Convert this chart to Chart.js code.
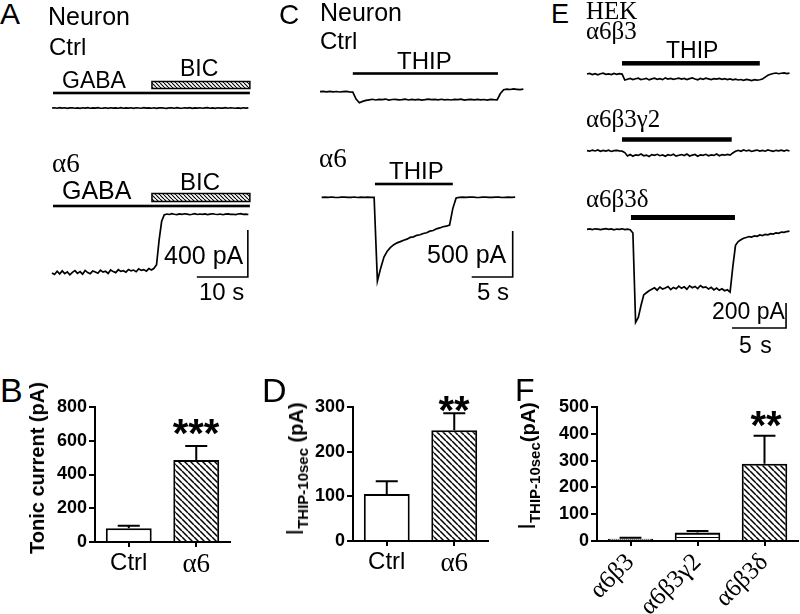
<!DOCTYPE html>
<html>
<head>
<meta charset="utf-8">
<script src="https://cdn.jsdelivr.net/npm/chart.js@4.4.1/dist/chart.umd.min.js"></script>
<style>
  body { margin: 0; background: #fff; }
  #fig { position: relative; width: 800px; height: 614px; overflow: hidden; background: #fff; }
  #fig canvas { position: absolute; }
  .lbl { position: absolute; line-height: 1; white-space: nowrap; color: #000; }
  .sans { font-family: Arial, "Liberation Sans", Helvetica, sans-serif; }
  .serif { font-family: "Times New Roman", "Liberation Serif", Times, serif; }
  .b { font-weight: bold; }
  .rot { transform: translate(-50%, -50%) rotate(-90deg); }
  .mid { transform: translateX(-50%); }
</style>
</head>
<body>
<div id="fig">
  <canvas id="cA" width="206" height="262" style="left:48px;top:55px"></canvas>
  <canvas id="cC" width="216" height="250" style="left:310px;top:60px"></canvas>
  <canvas id="cE" width="216" height="290" style="left:580px;top:50px"></canvas>
  <canvas id="cB" width="194" height="190" style="left:38px;top:393px"></canvas>
  <canvas id="cD" width="194" height="190" style="left:296px;top:393px"></canvas>
  <canvas id="cF" width="260" height="221" style="left:540px;top:393px"></canvas>

  <!-- A -->
  <div class="lbl sans" style="left:0;top:-1px;font-size:30px">A</div>
  <div class="lbl sans" style="left:48px;top:4px;font-size:25px">Neuron</div>
  <div class="lbl sans" style="left:49px;top:35px;font-size:24px">Ctrl</div>
  <div class="lbl sans" style="left:62px;top:69px;font-size:23px">GABA</div>
  <div class="lbl sans" style="left:180px;top:57px;font-size:23px">BIC</div>
  <div class="lbl serif" style="left:52px;top:150px;font-size:27px">α6</div>
  <div class="lbl sans" style="left:62px;top:178px;font-size:25px">GABA</div>
  <div class="lbl sans" style="left:180px;top:170px;font-size:24px">BIC</div>
  <div class="lbl sans" style="left:164px;top:243px;font-size:25px">400 pA</div>
  <div class="lbl sans" style="left:199px;top:280px;font-size:24px">10 s</div>

  <!-- C -->
  <div class="lbl sans" style="left:279px;top:1px;font-size:28px">C</div>
  <div class="lbl sans" style="left:320px;top:0;font-size:25px">Neuron</div>
  <div class="lbl sans" style="left:320px;top:29px;font-size:24px">Ctrl</div>
  <div class="lbl sans" style="left:397px;top:49px;font-size:24px">THIP</div>
  <div class="lbl serif" style="left:319px;top:145px;font-size:27px">α6</div>
  <div class="lbl sans" style="left:389px;top:159px;font-size:24px">THIP</div>
  <div class="lbl sans" style="left:427px;top:242px;font-size:25px">500 pA</div>
  <div class="lbl sans" style="left:477px;top:280px;font-size:24px">5 s</div>

  <!-- E -->
  <div class="lbl sans" style="left:551px;top:1px;font-size:27px">E</div>
  <div class="lbl serif" style="left:586px;top:-2px;font-size:25px">HEK</div>
  <div class="lbl serif" style="left:586px;top:18px;font-size:25px">α6β3</div>
  <div class="lbl sans" style="left:666px;top:39px;font-size:23px">THIP</div>
  <div class="lbl serif" style="left:586px;top:106px;font-size:25px">α6β3γ2</div>
  <div class="lbl serif" style="left:586px;top:186px;font-size:25px">α6β3δ</div>
  <div class="lbl sans" style="left:712px;top:300px;font-size:23px">200 pA</div>
  <div class="lbl sans" style="left:739px;top:334px;font-size:23px;word-spacing:2px">5 s</div>

  <!-- B, D, F -->
  <div class="lbl sans" style="left:0;top:373px;font-size:34px">B</div>
  <div class="lbl sans" style="left:262px;top:373px;font-size:34px">D</div>
  <div class="lbl sans" style="left:515px;top:374px;font-size:32px">F</div>
  <div class="lbl sans b rot" style="left:37px;top:468px;font-size:20px">Tonic current (pA)</div>
  <div class="lbl sans b rot" style="left:295px;top:469px;font-size:20px"><span style="font-size:24px;font-weight:normal">I</span><span style="font-size:15px;position:relative;top:5px">THIP-10sec</span> (pA)</div>
  <div class="lbl sans b rot" style="left:527px;top:466px;font-size:20px"><span style="font-size:24px;font-weight:normal">I</span><span style="font-size:15px;position:relative;top:5px">THIP-10sec</span>(pA)</div>
  <div class="lbl sans b mid" style="left:196px;top:413px;font-size:40px">***</div>
  <div class="lbl sans b mid" style="left:454px;top:390px;font-size:40px">**</div>
  <div class="lbl sans b mid" style="left:766px;top:405px;font-size:40px">**</div>
</div>

<script>
// ---------- データ ----------
// A: GABA / BIC（トニック電流） 0.5 s 間隔, pA
const aTimeStep = 0.5;
const aCtrlTrace = [0,2,-2,3,-1,2,-3,1,2,-2,1,-3,2,-1,3,-2,1,-1,3,-2,
  -1,2,-3,2,-1,1,-2,3,-2,1,-1,2,-3,2,0,-2,3,-1,1,-2,
  2,-3,1,2,-1,-3,2,1,-2,3,-1,-2,2,-1,3,-3,1,-1,2,-2,
  1,3,-2,1,-3,2,-1,-1,3,-2,2,0,-2,1,-3,2,-1,1];
const aA6Trace = [0,-12,15,-8,18,-5,10,-15,6,20,-3,12,-10,22,4,-6,17,9,-2,24,
  8,15,-4,26,12,3,28,14,20,7,30,18,25,11,35,22,29,16,38,26,40,
  70,280,440,495,
  502,498,505,500,497,503,499,504,501,496,500,505,498,502,499,503,497,501,504,500,
  498,502,496,501,503,499,500,497,502,505,499,501,498];
const aGaba = [0.2, 38.8];      // s
const aBic = [19.6, 38.8];      // s
const aScaleBar = [10, 400];    // s, pA

// C: THIP（ニューロン） 0.4 s 間隔
const cTimeStep = 0.4;
const cCtrlTrace = [0,3,-2,4,-1,2,-3,1,3,-2,
  -5,-80,-120,-105,-95,
  -88,-82,-90,-84,-87,-80,-92,-85,-83,-89,
  -86,-81,-90,-84,-88,-83,-91,-86,-80,-87,
  -84,-89,-82,-88,-85,-90,-83,-87,-81,-92,
  -86,-84,-89,-83,-88,-85,-91,-84,-87,-89,
  -20,22,28,24,30,26,22,27];
const cA6Start = 0.2;
const cA6Trace = [0,2,-1,3,0,-2,1,2,-1,0,3,-2,1,0,2,-1,0,
  -910,-770,-650,-585,-545,-515,-495,-482,-466,-455,-436,-430,-413,-407,-393,-385,
  -368,-361,-343,-333,-320,-314,-302,-120,-8,
  0,2,-1,1,3,0,-2,1,2,0,-1,2,1,-2,0,1,-1,2];
const cCtrlThip = [4.0, 21.7];
const cA6Thip = [6.7, 16.2];
const cScaleBar = [5, 500];

// E: THIP（HEK） 0.25 s 間隔
const eTimeStep = 0.25;
const eB3Trace = [0,5,-4,3,-6,2,6,-3,1,-5,4,-2,3,-1,
  -48,
  -42,-36,-45,-38,-33,-44,-40,-35,-47,-39,
  -34,-42,-37,-45,-31,-40,-36,-43,-38,-33,
  -41,-35,-44,-37,-32,-40,-46,-36,-42,-34,
  -39,-44,-37,-41,-35,-43,-38,-45,-40,-47,
  -42,-48,-44,-50,-43,-47,-52,-45,-49,
  -46,-40,-25,-10,-2,
  4,8,2,6,9,3,7];
const eG2Trace = [0,-4,5,-2,6,-5,2,-3,4,-6,1,3,-2,-4,
  -15,-42,
  -30,-44,-33,-38,-27,-41,-35,-46,-31,-37,
  -29,-40,-34,-45,-32,-38,-28,-43,-36,-31,
  -39,-26,-42,-35,-30,-44,-33,-37,-29,-41,
  -34,-38,-27,-40,-32,-36,-30,-35,
  -18,-4,
  3,-5,6,-2,4,-6,1,5,-3,2,-4,6,0,-5,3,-1,4,-3,5,-2];
const eDTrace = [0,3,-2,4,1,-3,2,5,-1,3,-4,2,0,4,-2,1,-3,
  -30,-745,-705,-610,-525,-508,-492,
  -480,-468,-487,-462,-478,-470,-458,-483,-465,-476,
  -455,-472,-460,-479,-452,-468,-457,-474,-450,-466,
  -461,-478,-464,-485,-470,-488,-476,-492,-484,
  -502,-300,-128,-98,-84,-72,-66,-58,
  -62,-52,-56,-45,-50,-40,-44,-35,-38,-28,-32,-22,-25,-18,-14];
const eB3Thip = [3.24, 16.0];
const eG2Thip = [3.24, 13.4];
const eDThip = [4.07, 13.7];
const eScaleBar = [5, 200];

// B: トニック電流
const bLabels = ['Ctrl', 'α6'];
const bMeans = [82, 486];
const bSem = [15, 83];
const bTicks = [0, 200, 400, 600, 800];

// D: I THIP-10sec（ニューロン）
const dLabels = ['Ctrl', 'α6'];
const dMeans = [105, 248];
const dSem = [29, 38];
const dTicks = [0, 100, 200, 300];

// F: I THIP-10sec（HEK）
const fLabels = ['α6β3', 'α6β3γ2', 'α6β3δ'];
const fMeans = [8, 32, 288];
const fSem = [4, 5, 105];
const fTicks = [0, 100, 200, 300, 400, 500];

// ---------- 描画 ----------
const SANS = 'Arial, "Liberation Sans", Helvetica, sans-serif';
const SERIF = '"Times New Roman", "Liberation Serif", Times, serif';
Chart.defaults.font.family = SANS;

// ハッチング用パターン
function makePattern(ctx, kind, size) {
  const s = size;
  const tile = document.createElement('canvas');
  tile.width = s; tile.height = s;
  const g = tile.getContext('2d');
  g.fillStyle = '#fff';
  g.fillRect(0, 0, s, s);
  g.fillStyle = '#000';
  g.strokeStyle = '#000';
  if (kind === 'diag') {
    g.lineWidth = s > 4 ? 1.5 : 1.1;
    g.beginPath();
    for (let k = -1; k <= 1; k++) {
      g.moveTo(k * s, 0);
      g.lineTo(k * s + s, s);
    }
    g.stroke();
  } else if (kind === 'horiz') {
    g.fillRect(0, 0, s, 1);
  } else {
    g.fillStyle = '#666';
    g.fillRect(0, 0, 1, 1);
    g.fillRect(1, 1, 1, 1);
  }
  return ctx.createPattern(tile, 'repeat');
}

// 薬物投与バーとスケールバー
const traceMarks = {
  id: 'traceMarks',
  afterDatasetsDraw(chart, args, opts) {
    const c = chart.ctx;
    const xs = chart.scales.x;
    c.save();
    opts.marks.forEach(m => {
      const x0 = xs.getPixelForValue(m.t[0]);
      const x1 = xs.getPixelForValue(m.t[1]);
      const y = m.y - opts.top;
      if (m.hatch) {
        c.fillStyle = makePattern(c, 'diag', 4);
        c.fillRect(x0, y - m.h / 2, x1 - x0, m.h);
        c.strokeStyle = '#000';
        c.lineWidth = 1.5;
        c.strokeRect(x0, y - m.h / 2, x1 - x0, m.h);
      } else {
        c.fillStyle = '#000';
        c.fillRect(x0, y - m.h / 2, x1 - x0, m.h);
      }
    });
    const sb = opts.scaleBar;
    if (sb) {
      const ys = chart.scales[sb.axis];
      const xr = xs.getPixelForValue(sb.t);
      const xl = xs.getPixelForValue(sb.t - sb.size[0]);
      const hh = Math.abs(ys.getPixelForValue(sb.size[1]) - ys.getPixelForValue(0));
      const y = sb.y - opts.top;
      c.strokeStyle = '#000';
      c.lineWidth = 1.6;
      c.beginPath();
      c.moveTo(xl, y);
      c.lineTo(xr, y);
      c.lineTo(xr, y - hh);
      c.stroke();
    }
    c.restore();
  }
};

// 記録波形パネル
function traceChart(id, cfg) {
  const canvas = document.getElementById(id);
  const W = canvas.width, H = canvas.height;
  const scales = {
    x: { type: 'linear', display: false, min: -cfg.zeroX / cfg.pxPerSec, max: (W - cfg.zeroX) / cfg.pxPerSec }
  };
  const datasets = cfg.traces.map((tr, i) => {
    const base = tr.base - cfg.top;
    scales['y' + i] = { type: 'linear', display: false, min: -(H - base) / cfg.pxPerPA, max: base / cfg.pxPerPA };
    return {
      data: tr.values.map((v, j) => ({ x: tr.start + j * tr.step, y: v })),
      yAxisID: 'y' + i,
      borderColor: '#000',
      borderWidth: 1.7,
      pointRadius: 0,
      tension: 0,
      fill: false
    };
  });
  return new Chart(canvas, {
    type: 'line',
    data: { datasets },
    options: {
      responsive: false,
      animation: false,
      events: [],
      layout: { padding: 0 },
      plugins: {
        legend: { display: false },
        tooltip: { enabled: false },
        traceMarks: { top: cfg.top, marks: cfg.marks, scaleBar: cfg.scaleBar }
      },
      scales
    },
    plugins: [traceMarks]
  });
}

traceChart('cA', {
  top: 55, zeroX: 4, pxPerSec: 5.1, pxPerPA: 0.1175,
  traces: [
    { values: aCtrlTrace, start: 0, step: aTimeStep, base: 108 },
    { values: aA6Trace, start: 0, step: aTimeStep, base: 273 }
  ],
  marks: [
    { t: aGaba, y: 93, h: 2.6 },
    { t: aBic, y: 85, h: 7, hatch: true },
    { t: aGaba, y: 206, h: 2.6 },
    { t: aBic, y: 197.5, h: 8, hatch: true }
  ],
  scaleBar: { axis: 'y1', t: 38.4, y: 277, size: aScaleBar }
});

traceChart('cC', {
  top: 60, zeroX: 10, pxPerSec: 8.2, pxPerPA: 0.092,
  traces: [
    { values: cCtrlTrace, start: 0, step: cTimeStep, base: 91.7 },
    { values: cA6Trace, start: cA6Start, step: cTimeStep, base: 197.3 }
  ],
  marks: [
    { t: cCtrlThip, y: 73.5, h: 2.6 },
    { t: cA6Thip, y: 184, h: 2.6 }
  ],
  scaleBar: { axis: 'y1', t: 23.5, y: 277, size: cScaleBar }
});

traceChart('cE', {
  top: 50, zeroX: 7, pxPerSec: 10.8, pxPerPA: 0.125,
  traces: [
    { values: eB3Trace, start: 0, step: eTimeStep, base: 74 },
    { values: eG2Trace, start: 0, step: eTimeStep, base: 150.7 },
    { values: eDTrace, start: 0, step: eTimeStep, base: 229.3 }
  ],
  marks: [
    { t: eB3Thip, y: 63.3, h: 4.5 },
    { t: eG2Thip, y: 139.5, h: 4.5 },
    { t: eDThip, y: 217.5, h: 5 }
  ],
  scaleBar: { axis: 'y2', t: 18.43, y: 328, size: eScaleBar }
});

// エラーバー（上側のみ）
const errorBars = {
  id: 'errorBars',
  afterDatasetsDraw(chart, args, opts) {
    const c = chart.ctx;
    const ys = chart.scales.y;
    const meta = chart.getDatasetMeta(0);
    const means = chart.data.datasets[0].data;
    c.save();
    c.strokeStyle = '#000';
    c.lineWidth = 2;
    meta.data.forEach((bar, i) => {
      const yTop = ys.getPixelForValue(means[i] + opts.sems[i]);
      const half = bar.width * 0.24;
      c.beginPath();
      c.moveTo(bar.x, bar.y);
      c.lineTo(bar.x, yTop);
      c.moveTo(bar.x - half, yTop);
      c.lineTo(bar.x + half, yTop);
      c.stroke();
    });
    c.restore();
  }
};

function barChart(id, labels, means, sems, ticks, fillKinds, xHeight, rot, labelFont) {
  const canvas = document.getElementById(id);
  const ctx = canvas.getContext('2d');
  const fills = fillKinds.map(k => k === 'white' ? '#fff' : makePattern(ctx, k, k === 'diag' ? 6 : (k === 'horiz' ? 3 : 2)));
  return new Chart(canvas, {
    type: 'bar',
    data: {
      labels,
      datasets: [{
        data: means,
        backgroundColor: fills,
        borderColor: '#000',
        borderWidth: 2,
        borderSkipped: 'start',
        categoryPercentage: 1,
        barPercentage: 0.68
      }]
    },
    options: {
      responsive: false,
      animation: false,
      events: [],
      layout: { padding: { top: 14, right: 2, left: 0, bottom: 0 } },
      plugins: {
        legend: { display: false },
        tooltip: { enabled: false },
        errorBars: { sems }
      },
      scales: {
        x: {
          grid: { offset: false, drawOnChartArea: false, color: '#000', lineWidth: 2, tickLength: 5 },
          border: { color: '#000', width: 2 },
          ticks: {
            color: '#000',
            padding: 2,
            autoSkip: false,
            maxRotation: rot,
            minRotation: rot,
            font: c => labelFont(labels[c.index])
          },
          afterFit: s => { s.height = xHeight; }
        },
        y: {
          min: ticks[0],
          max: ticks[ticks.length - 1],
          ticks: {
            stepSize: ticks[1] - ticks[0],
            color: '#000',
            padding: 2,
            font: { family: SANS, size: 18, weight: 'bold' }
          },
          grid: { drawOnChartArea: false, color: '#000', lineWidth: 2, tickLength: 6 },
          border: { color: '#000', width: 2 },
          afterFit: s => { s.width = 57; }
        }
      }
    },
    plugins: [errorBars]
  });
}

const ctrlFont = lab => /α/.test(lab || '') ? { family: SERIF, size: 27 } : { family: SANS, size: 24 };

barChart('cB', bLabels, bMeans, bSem, bTicks, ['white', 'diag'], 41, 0, ctrlFont);
barChart('cD', dLabels, dMeans, dSem, dTicks, ['white', 'diag'], 42, 0, ctrlFont);
barChart('cF', fLabels, fMeans, fSem, fTicks, ['dots', 'horiz', 'diag'], 73, 45, () => ({ family: SERIF, size: 25 }));
</script>
</body>
</html>
